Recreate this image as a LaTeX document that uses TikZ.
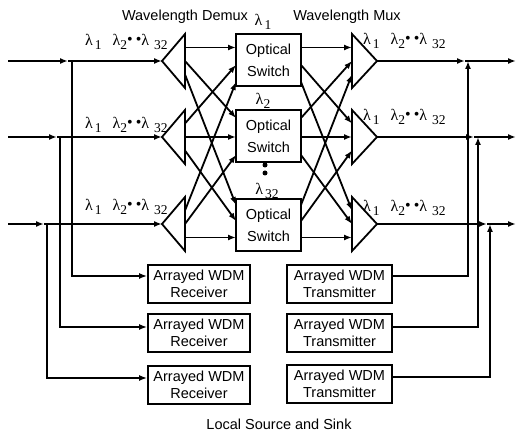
\documentclass[tikz,border=0pt]{standalone}
\usepackage{fontspec}
\setmainfont{Liberation Sans}
\newfontfamily\lamfont{Liberation Serif}
\usetikzlibrary{arrows.meta,calc}
\newcommand\lsub[1]{\raisebox{-4pt}{\fontsize{13.5}{13.5}\selectfont #1}}
\newcommand\lbul{\raisebox{1pt}{\fontsize{16}{16}\selectfont •}}
\newcommand\lamlabel{\lamfont\fontsize{16}{16}\selectfont λ\hspace{2pt}\lsub{1}\hspace{11pt}λ\lsub{2}\lbul\hspace{3pt}\lbul λ\hspace{5pt}\lsub{32}}
\begin{document}
\begin{tikzpicture}[x=1pt,y=-1pt,
  wire/.style={line width=1.8pt},
  arr/.style={wire,-{Latex[length=8pt,width=6pt]}},
  box/.style={draw,line width=1.8pt,inner sep=0pt,align=center,font=\fontsize{14.5}{17.5}\selectfont},
  sw/.style={box,minimum width=65pt,minimum height=52pt,font=\fontsize{14.5}{22}\selectfont},
  rx/.style={box,minimum width=102pt,minimum height=38pt},
  tx/.style={box,minimum width=105pt,minimum height=38pt},
  lbl/.style={inner sep=0pt,font=\fontsize{14.5}{17}\selectfont},
  lam/.style={inner sep=0pt,anchor=west},
  lamc/.style={inner sep=0pt,font=\lamfont\fontsize{16}{16}\selectfont},
  dot/.style={circle,fill,inner sep=0pt,minimum size=5pt}
]
\useasboundingbox (0,0) rectangle (517,435);

% switches
\node[sw] (S1) at (268.5,60) {Optical\\Switch};
\node[sw] (S2) at (268.5,136) {Optical\\Switch};
\node[sw] (S3) at (268.5,225) {Optical\\Switch};

% receivers and transmitters
\node[rx] (R1) at (199,284) {Arrayed WDM\\Receiver};
\node[rx] (R2) at (199,333) {Arrayed WDM\\Receiver};
\node[rx] (R3) at (199,385) {Arrayed WDM\\Receiver};
\node[tx] (T1) at (339.5,284) {Arrayed WDM\\Transmitter};
\node[tx] (T2) at (339.5,333) {Arrayed WDM\\Transmitter};
\node[tx] (T3) at (339.5,384) {Arrayed WDM\\Transmitter};

% demux and mux triangles
\foreach \i/\y in {1/61,2/137,3/224} {
  \coordinate (D\i) at (162,\y);
  \draw[wire,line join=miter] (D\i) -- ++(23,-27) -- ++(0,54) -- cycle;
  \coordinate (M\i) at (377,\y);
  \draw[wire,line join=miter] (M\i) -- ++(-25,-27) -- ++(0,54) -- cycle;
  \foreach \j/\o in {1/-13.5,2/0,3/13.5} {
    \coordinate (Do-\i-\j) at (185,\y+\o);
    \coordinate (Mi-\i-\j) at (352,\y+\o);
  }
}
% switch ports
\foreach \j/\ya/\yb/\yc in {1/47.5/65/82,2/118/137/155,3/205/221/237.5} {
  \coordinate (Si-\j-1) at (236,\ya);
  \coordinate (Si-\j-2) at (236,\yb);
  \coordinate (Si-\j-3) at (236,\yc);
  \coordinate (So-\j-1) at (301,\ya);
  \coordinate (So-\j-2) at (301,\yb);
  \coordinate (So-\j-3) at (301,\yc);
}
% crossconnect
\foreach \i in {1,2,3} {
  \foreach \j in {1,2,3} {
    \draw[arr] (Do-\i-\j) -- (Si-\j-\i);
    \draw[arr] (So-\j-\i) -- (Mi-\i-\j);
  }
}

% inputs and taps
\foreach \i/\y/\a/\p/\o in {1/61/68/72/-8,2/137/57/60/-6,3/224/44/47/-7} {
  \coordinate (in\i) at (8,\y);
  \coordinate (a\i) at (\a,\y);
  \coordinate (p\i) at (\p,\y);
  \draw[arr] (in\i) -- (a\i);
  \draw[arr] (a\i) -- (D\i);
  \draw[arr] (p\i) |- ($(R\i.west)+(0,\o)$);
}
% outputs and adds
\foreach \i/\y/\b/\q/\o in {1/61/465/468/-8,2/137/474/478/-6,3/224/487/490/-7} {
  \coordinate (b\i) at (\b,\y);
  \coordinate (q\i) at (\q,\y);
  \coordinate (out\i) at (516,\y);
  \draw[arr] (M\i) -- (b\i);
  \draw[arr] (b\i) -- (out\i);
  \draw[arr] ($(T\i.east)+(0,\o)$) -| (q\i);
}

% labels
\node[lbl] (wd) at (185,17) {Wavelength Demux};
\node[lbl] (wm) at (347,17) {Wavelength Mux};
\node[lbl] (ls) at (279,424) {Local Source and Sink};
\node[lam] (ld1) at (85,42) {\lamlabel};
\node[lam] (ld2) at (85,125) {\lamlabel};
\node[lam] (ld3) at (85,207) {\lamlabel};
\node[lam] (lm1) at (363,41) {\lamlabel};
\node[lam] (lm2) at (363,117) {\lamlabel};
\node[lam] (lm3) at (363,208) {\lamlabel};
\node[lamc] (l1) at (263,22) {λ\hspace{2pt}\lsub{1}};
\node[lamc] (l2) at (263,101) {λ\lsub{2}};
\node[lamc] (l32) at (267,191) {λ\hspace{2pt}\lsub{32}};
\node[dot] (dt1) at (265,165) {};
\node[dot] (dt2) at (265,173) {};
\end{tikzpicture}
\end{document}
